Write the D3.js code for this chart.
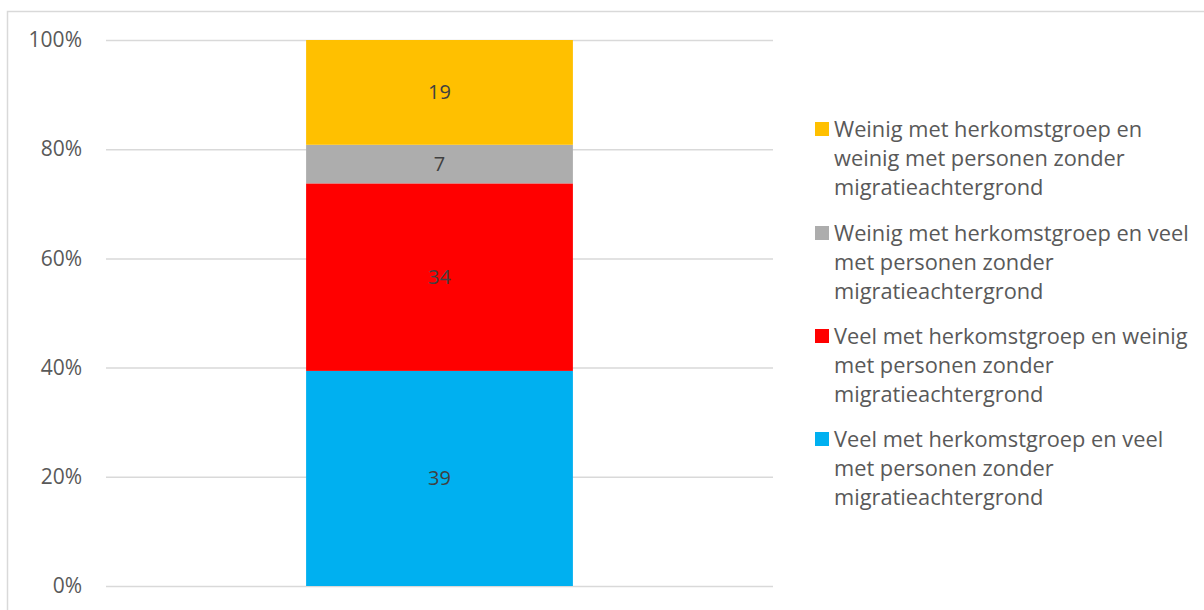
<!DOCTYPE html>
<html>
<head>
<meta charset="utf-8">
<script src="https://cdn.jsdelivr.net/npm/d3@7"></script>
<style>
  html, body { margin: 0; padding: 0; background: #fff; }
  svg { display: block; }
  text { font-family: "Open Sans", "Noto Sans", sans-serif; }
</style>
</head>
<body>
<svg id="chart" width="1204" height="610"></svg>
<script>
// Series, bottom to top of the stack
const seriesNames = [
  "Veel met herkomstgroep en veel met personen zonder migratieachtergrond",
  "Veel met herkomstgroep en weinig met personen zonder migratieachtergrond",
  "Weinig met herkomstgroep en veel met personen zonder migratieachtergrond",
  "Weinig met herkomstgroep en weinig met personen zonder migratieachtergrond"
];
const seriesValues = [39, 34, 7, 19];
const seriesColors = ["#00B0F0", "#FF0000", "#ADADAD", "#FFC000"];

// Legend lines, top to bottom
const legendLines = [
  ["Weinig met herkomstgroep en", "weinig met personen zonder", "migratieachtergrond"],
  ["Weinig met herkomstgroep en veel", "met personen zonder", "migratieachtergrond"],
  ["Veel met herkomstgroep en weinig", "met personen zonder", "migratieachtergrond"],
  ["Veel met herkomstgroep en veel", "met personen zonder", "migratieachtergrond"]
];
const legendOrder = [3, 2, 1, 0];

const categories = ["totaal"];
const yTicks = [0, 0.2, 0.4, 0.6, 0.8, 1.0];

const svg = d3.select("#chart");

// outer chart border
svg.append("rect")
  .attr("x", 7.5).attr("y", 11.5)
  .attr("width", 1210).attr("height", 620)
  .attr("fill", "none").attr("stroke", "#d9d9d9").attr("stroke-width", 1.5);

const plot = { left: 106, right: 773, top: 40, bottom: 586 };

const y = d3.scaleLinear().domain([0, 1]).range([plot.bottom, plot.top]);
const x = d3.scaleBand().domain(categories).range([plot.left, plot.right]).paddingInner(0.6).paddingOuter(0.3);

// gridlines and tick labels
const yAxis = d3.axisLeft(y).tickValues(yTicks).tickFormat(d3.format(".0%"))
  .tickSize(-(plot.right - plot.left)).tickPadding(24);
const gAxis = svg.append("g").attr("transform", `translate(${plot.left},0)`).call(yAxis);
gAxis.select(".domain").remove();
gAxis.selectAll(".tick line").attr("stroke", "#d9d9d9").attr("stroke-width", 1.5);
gAxis.selectAll(".tick text").attr("fill", "#595959").style("font-size", "21px");

// 100% stacked bar
const total = d3.sum(seriesValues);
const row = { cat: categories[0] };
seriesValues.forEach((v, i) => row["s" + i] = v / total);
const keys = seriesValues.map((_, i) => "s" + i);
const stacked = d3.stack().keys(keys)([row]);

const layers = svg.append("g").selectAll("g").data(stacked).join("g")
  .attr("fill", (d, i) => seriesColors[i]);

layers.selectAll("rect").data(d => d).join("rect")
  .attr("x", d => x(d.data.cat))
  .attr("width", x.bandwidth())
  .attr("y", d => y(d[1]))
  .attr("height", d => y(d[0]) - y(d[1]));

// value labels
svg.append("g").selectAll("text").data(stacked).join("text")
  .attr("x", d => x(d[0].data.cat) + x.bandwidth() / 2)
  .attr("y", d => (y(d[0][0]) + y(d[0][1])) / 2)
  .attr("dy", "0.35em")
  .attr("text-anchor", "middle")
  .attr("fill", "#404040")
  .style("font-size", "20px")
  .text((d, i) => seriesValues[i]);

// legend
const legend = svg.append("g").attr("transform", "translate(815,0)");
const groupTop = [129, 233, 336, 439];
const lineH = 29;
legendOrder.forEach((si, k) => {
  const g = legend.append("g").attr("transform", `translate(0,${groupTop[k]})`);
  g.append("rect").attr("x", 0).attr("y", -7).attr("width", 14).attr("height", 14)
    .attr("fill", seriesColors[si]);
  g.selectAll("text").data(legendLines[k]).join("text")
    .attr("x", 19)
    .attr("y", (d, j) => j * lineH)
    .attr("dy", "0.35em")
    .attr("fill", "#595959")
    .style("font-size", "21.8px")
    .text(d => d);
});
</script>
</body>
</html>
